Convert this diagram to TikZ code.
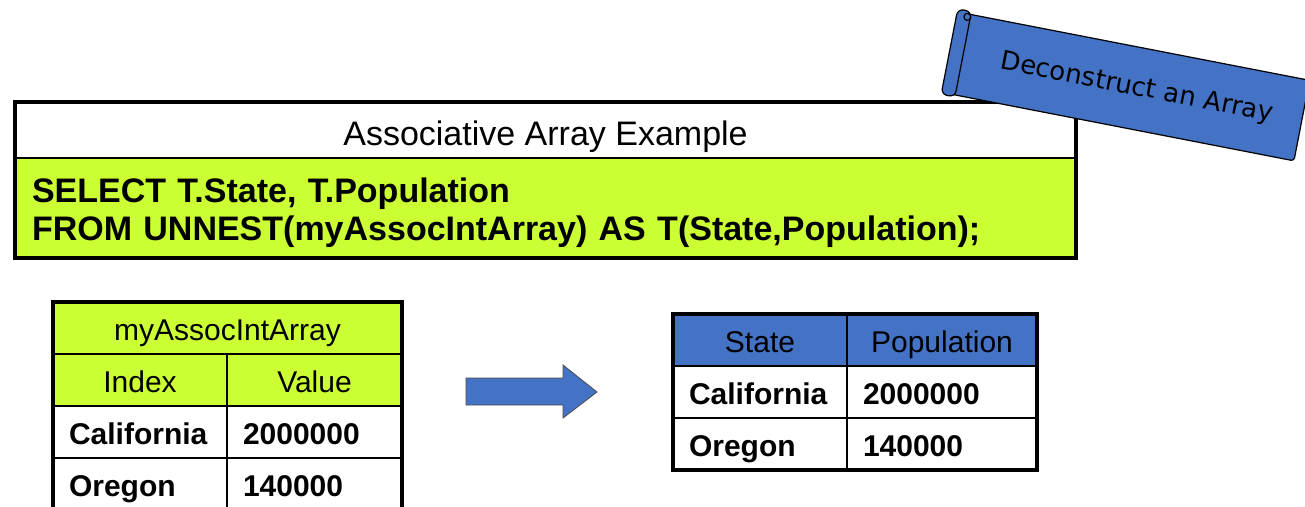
\documentclass[tikz,border=0pt]{standalone}
\usepackage{fontspec}
\setmainfont{Liberation Sans}
\newfontfamily\bannerfont{DejaVu Sans}
\usetikzlibrary{positioning}
\definecolor{limegreen}{RGB}{204,255,51}
\definecolor{slateblue}{RGB}{68,114,196}
\tikzset{
    cell/.style={draw, line width=1.5pt, minimum height=52pt, inner sep=0pt, outer sep=0pt,
        text height=25pt, text depth=0pt, font=\fontsize{30}{36}\selectfont},
    datacell/.style={cell, inner xsep=16pt, align=left, font=\fontsize{30}{36}\selectfont\bfseries},
    thickframe/.style={line width=4pt},
}

\begin{document}
\begin{tikzpicture}[x=1pt,y=-1pt]
    \useasboundingbox (0,0) rectangle (1305,506);

    \node[draw, line width=2pt, minimum width=1061pt, minimum height=56pt, inner sep=0pt, outer sep=0pt,
        text height=30pt, text depth=0pt, font=\fontsize{34}{40}\selectfont] (caption) at (545.5,130) {Associative Array Example};
    \node[draw, fill=limegreen, line width=2pt, minimum height=100pt, text width=1027pt, inner xsep=17pt, inner ysep=0pt,
        outer sep=0pt, text height=26pt, text depth=38pt, align=left, font=\fontsize{34}{38}\selectfont\bfseries,
        below=0pt of caption] (query)
        {SELECT T.State, T.Population\\FROM UNNEST(myAssocIntArray) AS T(State,Population);};
    \draw[thickframe] (caption.north west) rectangle (query.south east);

    \begin{scope}[shift={(1129,87)}, rotate=-11]
        \filldraw[fill=slateblue, draw=black, line width=1.2pt, rounded corners=3pt] (-175,-41) rectangle (176,41);
        \filldraw[fill=slateblue, draw=black, line width=1.2pt, rounded corners=6pt] (-183,-44) rectangle (-169,43);
        \draw[line width=1.2pt] (-172,-38) circle (3.5pt);
        \node[rotate=-11, font=\bannerfont\fontsize{26}{30}\selectfont] (banner) at (8,0) {Deconstruct an Array};
    \end{scope}

    \node[cell, fill=limegreen, minimum width=349pt] (arrname) at (227.5,328) {myAssocIntArray};
    \node[cell, fill=limegreen, minimum width=174pt, anchor=north west] (idxhead) at (arrname.south west) {Index};
    \node[cell, fill=limegreen, minimum width=175pt, right=0pt of idxhead] (valhead) {Value};
    \node[datacell, text width=142pt, below=0pt of idxhead] (idxca) {California};
    \node[datacell, text width=143pt, below=0pt of valhead] (valca) {2000000};
    \node[datacell, text width=142pt, below=0pt of idxca] (idxor) {Oregon};
    \node[datacell, text width=143pt, below=0pt of valca] (valor) {140000};
    \draw[thickframe] (arrname.north west) rectangle (valor.south east);

    \draw[fill=slateblue, draw=black!70, line width=0.8pt]
        (466,378) -- (563,378) -- (563,365) -- (597,392) -- (563,418) -- (563,405) -- (466,405) -- cycle;

    \node[cell, fill=slateblue, minimum width=174pt] (statehead) at (760,340) {State};
    \node[cell, fill=slateblue, minimum width=190pt, right=0pt of statehead] (pophead) {Population};
    \node[datacell, text width=142pt, below=0pt of statehead] (stateca) {California};
    \node[datacell, text width=158pt, below=0pt of pophead] (popca) {2000000};
    \node[datacell, text width=142pt, below=0pt of stateca] (stateor) {Oregon};
    \node[datacell, text width=158pt, below=0pt of popca] (popor) {140000};
    \draw[thickframe] (statehead.north west) rectangle (popor.south east);
\end{tikzpicture}
\end{document}
